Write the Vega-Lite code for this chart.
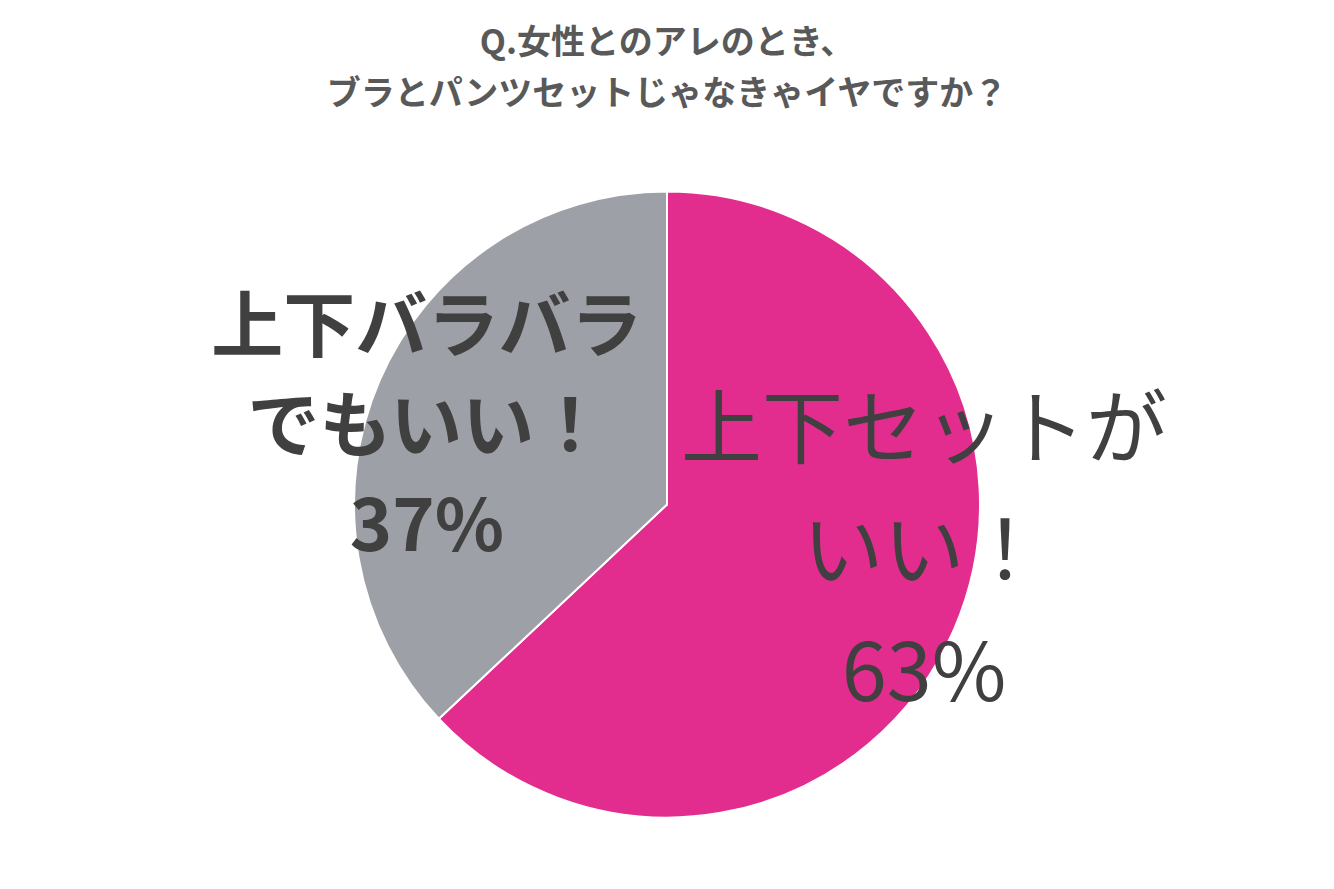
{
  "$schema": "https://vega.github.io/schema/vega-lite/v6.json",
  "autosize": {"type": "fit", "contains": "padding"},
  "width": 1334,
  "height": 889,
  "padding": {"top": 27, "left": 0, "right": 0, "bottom": 0},
  "background": "white",
  "title": {
    "text": ["Q.女性とのアレのとき、", "ブラとパンツセットじゃなきゃイヤですか？"],
    "font": "Noto Sans CJK JP",
    "fontSize": 34,
    "fontWeight": "bold",
    "color": "#595959",
    "lineHeight": 51,
    "anchor": "middle",
    "baseline": "top",
    "offset": 8
  },
  "data": {
    "values": [
      {"answer": "上下セットがいい！", "value": 63, "order": 1, "label": "上下セットが\nいい！\n63%"},
      {"answer": "上下バラバラでもいい！", "value": 37, "order": 2, "label": "上下バラバラ\nでもいい！\n37%"}
    ]
  },
  "encoding": {
    "theta": {"field": "value", "type": "quantitative", "stack": true},
    "order": {"field": "order", "type": "quantitative"}
  },
  "layer": [
    {
      "mark": {"type": "arc", "radius": 313, "stroke": "white", "strokeWidth": 2},
      "encoding": {
        "color": {
          "field": "answer",
          "type": "nominal",
          "scale": {"domain": ["上下セットがいい！", "上下バラバラでもいい！"], "range": ["#E22D8F", "#9EA0A7"]},
          "legend": null
        }
      }
    },
    {
      "mark": {"type": "text", "radius": 267, "dy": -178, "dx": 12, "font": "Noto Sans CJK JP", "fontSize": 81, "fontWeight": "normal", "color": "#404040", "lineBreak": "\n", "lineHeight": 122, "align": "center", "baseline": "middle"},
      "encoding": {
        "text": {"condition": {"test": "datum.order == 1", "field": "label"}, "value": ""}
      }
    },
    {
      "mark": {"type": "text", "radius": 266, "dy": -70, "dx": 4, "font": "Noto Sans CJK JP", "fontSize": 72, "fontWeight": "bold", "color": "#404040", "lineBreak": "\n", "lineHeight": 100, "align": "center", "baseline": "middle"},
      "encoding": {
        "text": {"condition": {"test": "datum.order == 2", "field": "label"}, "value": ""}
      }
    }
  ]
}
